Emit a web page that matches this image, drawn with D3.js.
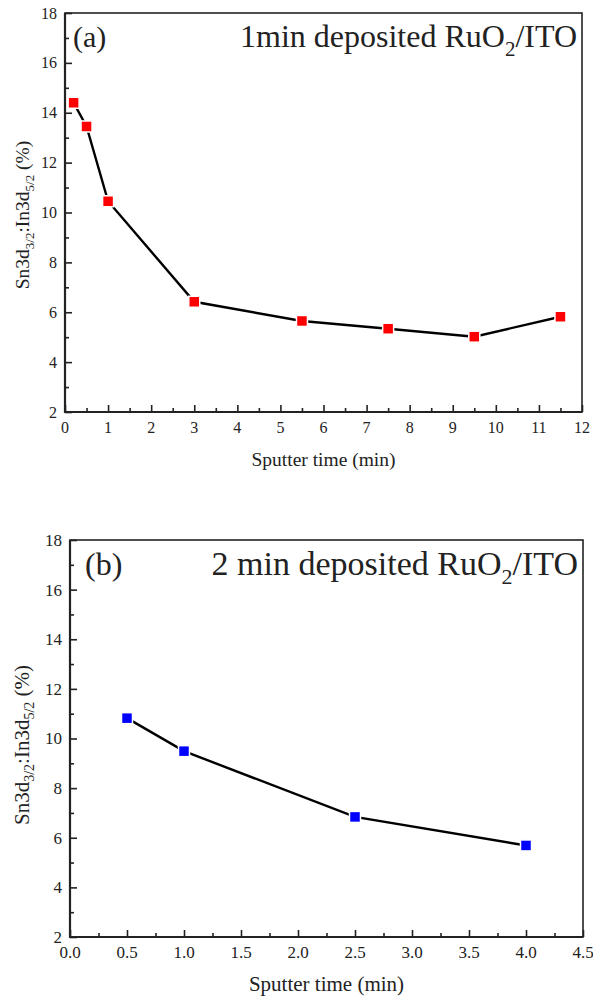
<!DOCTYPE html>
<html>
<head>
<meta charset="utf-8">
<script src="https://cdn.jsdelivr.net/npm/d3@7"></script>
<style>
  body { margin: 0; background: #fff; }
  svg text { font-family: "Liberation Serif", "Times New Roman", serif; fill: #222; }
</style>
</head>
<body>
<div id="chart"></div>
<script>
// panel (a): 1 min deposited
const timeA = [0.2, 0.5, 1, 3, 5.5, 7.5, 9.5, 11.5];
const ratioA = [14.4, 13.45, 10.45, 6.42, 5.65, 5.34, 5.02, 5.82];
const xTicksA = [0, 1, 2, 3, 4, 5, 6, 7, 8, 9, 10, 11, 12];

// panel (b): 2 min deposited
const timeB = [0.5, 1.0, 2.5, 4.0];
const ratioB = [10.82, 9.49, 6.84, 5.69];
const xTicksB = [0, 0.5, 1.0, 1.5, 2.0, 2.5, 3.0, 3.5, 4.0, 4.5];

const yTicks = [2, 4, 6, 8, 10, 12, 14, 16, 18];

const svg = d3.select("#chart")
  .append("svg")
  .attr("width", 593)
  .attr("height", 998);

const drawPanel = opts => {
  const { left, top, right, bottom, xDomain, xTicks, xMinor, xFmt, xs, ys, color,
          tag, title, tagX, titleY, tickFont, labelFont, titleFont, tagFont, yLabelY } = opts;

  const x = d3.scaleLinear().domain(xDomain).range([left, right]);
  const y = d3.scaleLinear().domain([2, 18]).range([bottom, top]);

  const g = svg.append("g");

  // minor ticks (inside)
  const yMinor = d3.range(3, 18, 2);
  g.append("g").attr("transform", `translate(${left},0)`)
    .call(d3.axisRight(y).tickValues(yMinor).tickSize(4).tickFormat(""))
    .call(a => a.select(".domain").remove());
  g.append("g").attr("transform", `translate(0,${bottom})`)
    .call(d3.axisTop(x).tickValues(xMinor).tickSize(4).tickFormat(""))
    .call(a => a.select(".domain").remove());

  // major ticks (inside), labels outside
  g.append("g").attr("transform", `translate(${left},0)`)
    .call(d3.axisRight(y).tickValues(yTicks).tickSize(7).tickFormat(""))
    .call(a => a.select(".domain").remove());
  g.append("g").attr("transform", `translate(0,${bottom})`)
    .call(d3.axisTop(x).tickValues(xTicks).tickSize(7).tickFormat(""))
    .call(a => a.select(".domain").remove());

  g.selectAll(".tick line").attr("stroke", "#222").attr("stroke-width", 1.6);

  g.append("g").selectAll("text")
    .data(yTicks).enter().append("text")
    .attr("x", left - 8)
    .attr("y", d => y(d))
    .attr("dy", "0.35em")
    .attr("text-anchor", "end")
    .style("font-size", tickFont + "px")
    .text(d => d);

  g.append("g").selectAll("text")
    .data(xTicks).enter().append("text")
    .attr("x", d => x(d))
    .attr("y", bottom + 21)
    .attr("text-anchor", "middle")
    .style("font-size", tickFont + "px")
    .text(xFmt);

  // frame
  g.append("rect")
    .attr("x", left).attr("y", top)
    .attr("width", right - left).attr("height", bottom - top)
    .attr("fill", "none").attr("stroke", "#222").attr("stroke-width", 1.6);
  g.append("path")
    .attr("d", `M${left},${top}V${bottom}H${right}`)
    .attr("fill", "none").attr("stroke", "#222").attr("stroke-width", 2.2);

  // data line + square markers
  const pts = xs.map((d, i) => [d, ys[i]]);
  g.append("path")
    .datum(pts)
    .attr("d", d3.line().x(d => x(d[0])).y(d => y(d[1])))
    .attr("fill", "none")
    .attr("stroke", "#000")
    .attr("stroke-width", 2.4);

  const s = 11;
  g.append("g").selectAll("rect")
    .data(pts).enter().append("rect")
    .attr("x", d => x(d[0]) - s / 2)
    .attr("y", d => y(d[1]) - s / 2)
    .attr("width", s).attr("height", s)
    .attr("fill", color)
    .attr("stroke", "#fff")
    .attr("stroke-width", 1.5);

  // axis titles
  g.append("text")
    .attr("x", (left + right) / 2)
    .attr("y", bottom + 54)
    .attr("text-anchor", "middle")
    .style("font-size", labelFont + "px")
    .text("Sputter time (min)");

  const sub = Math.round(labelFont * 0.65);
  const yl = g.append("text")
    .attr("transform", `translate(29,${yLabelY}) rotate(-90)`)
    .attr("text-anchor", "middle")
    .style("font-size", labelFont + "px");
  yl.append("tspan").text("Sn3d");
  yl.append("tspan").attr("dy", 5).style("font-size", sub + "px").text("3/2");
  yl.append("tspan").attr("dy", -5).text(":In3d");
  yl.append("tspan").attr("dy", 5).style("font-size", sub + "px").text("5/2");
  yl.append("tspan").attr("dy", -5).text(" (%)");

  // annotations
  g.append("text")
    .attr("x", tagX).attr("y", titleY)
    .style("font-size", tagFont + "px")
    .text(tag);

  const t = g.append("text")
    .attr("x", right - 5).attr("y", titleY)
    .attr("text-anchor", "end")
    .style("font-size", titleFont + "px");
  t.append("tspan").text(title);
  t.append("tspan").attr("dy", 9).style("font-size", Math.round(titleFont * 0.65) + "px").text("2");
  t.append("tspan").attr("dy", -9).text("/ITO");
};

drawPanel({
  left: 65, top: 13, right: 582, bottom: 412,
  xDomain: [0, 12], xTicks: xTicksA, xMinor: d3.range(0.5, 12, 1),
  xFmt: d => d, xs: timeA, ys: ratioA, color: "#ff0000",
  tag: "(a)", title: "1min deposited RuO", tagX: 73, titleY: 47,
  tickFont: 16, labelFont: 19.5, titleFont: 32, tagFont: 30, yLabelY: 215
});

drawPanel({
  left: 70, top: 540, right: 583, bottom: 937,
  xDomain: [0, 4.5], xTicks: xTicksB, xMinor: d3.range(0.25, 4.5, 0.5),
  xFmt: d => d.toFixed(1), xs: timeB, ys: ratioB, color: "#0000ff",
  tag: "(b)", title: "2 min deposited RuO", tagX: 85, titleY: 575,
  tickFont: 17, labelFont: 21, titleFont: 34, tagFont: 32, yLabelY: 745
});
</script>
</body>
</html>
